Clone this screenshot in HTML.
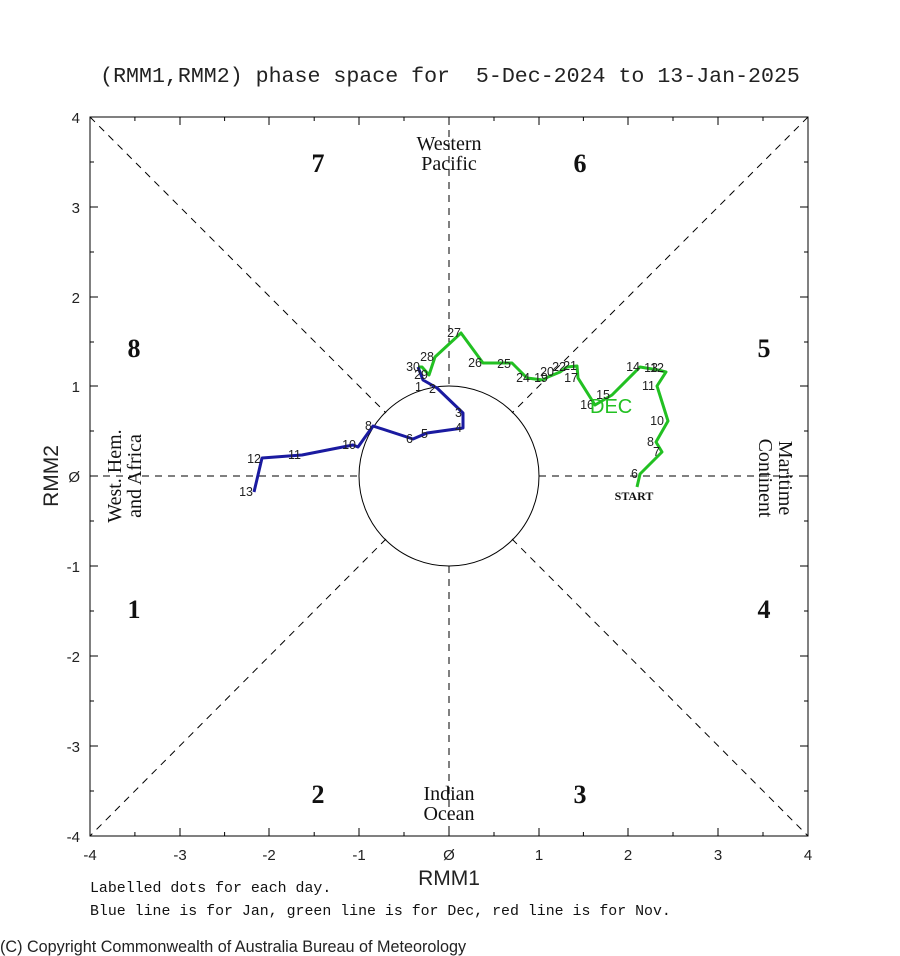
<!DOCTYPE html>
<html><head><meta charset="utf-8"><style>
html,body{margin:0;padding:0;background:#fff;width:900px;height:956px;overflow:hidden}
</style></head><body>
<svg width="900" height="956" xmlns="http://www.w3.org/2000/svg">
<rect width="900" height="956" fill="#fff"/>
<text x="450" y="82" font-family="Liberation Mono, monospace" font-size="21.6" text-anchor="middle" fill="#222" xml:space="preserve">(RMM1,RMM2) phase space for  5-Dec-2024 to 13-Jan-2025</text>
<g stroke="#000" fill="none">
<rect x="90" y="117" width="718" height="719" stroke-width="1"/>
<g stroke-dasharray="7,6" stroke-width="1">
<line x1="90" y1="117" x2="386" y2="413"/><line x1="512" y1="539" x2="808" y2="836"/>
<line x1="808" y1="117" x2="512" y2="413"/><line x1="386" y1="539" x2="90" y2="836"/>
<line x1="449" y1="117" x2="449" y2="386"/><line x1="449" y1="566" x2="449" y2="836"/>
<line x1="90" y1="476" x2="359" y2="476"/><line x1="539" y1="476" x2="808" y2="476"/>
</g>
<circle cx="449" cy="476" r="90" stroke-width="1"/>
<path stroke-width="1" d="
M90,836v-8M134.9,836v-4M180,836v-8M224.6,836v-4M269,836v-8M314.2,836v-4M359,836v-8M404,836v-4M449,836v-8M494,836v-4M539,836v-8M583.4,836v-4M628,836v-8M673,836v-4M718,836v-8M763,836v-4
M90,117v8M134.9,117v4M180,117v8M224.6,117v4M269,117v8M314.2,117v4M359,117v8M404,117v4M449,117v8M494,117v4M539,117v8M583.4,117v4M628,117v8M673,117v4M718,117v8M763,117v4
M90,117h8M90,162h4M90,207h8M90,252h4M90,297h8M90,342h4M90,386h8M90,431h4M90,476h8M90,521h4M90,566h8M90,611h4M90,656h8M90,701h4M90,746h8M90,791h4
M808,117h-8M808,162h-4M808,207h-8M808,252h-4M808,297h-8M808,342h-4M808,386h-8M808,431h-4M808,476h-8M808,521h-4M808,566h-8M808,611h-4M808,656h-8M808,701h-4M808,746h-8M808,791h-4"/>
</g>
<g font-family="Liberation Sans, sans-serif" font-size="15" fill="#222" text-anchor="middle">
<text x="90" y="860">-4</text><text x="180" y="860">-3</text><text x="269" y="860">-2</text><text x="359" y="860">-1</text><text x="449" y="860">Ø</text><text x="539" y="860">1</text><text x="628" y="860">2</text><text x="718" y="860">3</text><text x="808" y="860">4</text>
<g text-anchor="end"><text x="80" y="123">4</text><text x="80" y="213">3</text><text x="80" y="303">2</text><text x="80" y="392">1</text><text x="80" y="482">Ø</text><text x="80" y="572">-1</text><text x="80" y="662">-2</text><text x="80" y="752">-3</text><text x="80" y="842">-4</text></g>
</g>
<text x="449" y="885" font-family="Liberation Sans, sans-serif" font-size="21" text-anchor="middle" fill="#222">RMM1</text>
<text transform="translate(58,476) rotate(-90)" font-family="Liberation Sans, sans-serif" font-size="21" text-anchor="middle" fill="#222">RMM2</text>
<g font-family="Liberation Serif, serif" font-size="26" font-weight="bold" fill="#111" text-anchor="middle">
<text x="318" y="172">7</text><text x="580" y="172">6</text><text x="134" y="357">8</text><text x="764" y="357">5</text>
<text x="134" y="618">1</text><text x="764" y="618">4</text><text x="318" y="803">2</text><text x="580" y="803">3</text>
</g>
<g font-family="Liberation Serif, serif" font-size="20" fill="#111" text-anchor="middle">
<text x="449" y="150">Western</text><text x="449" y="170">Pacific</text>
<text x="449" y="800">Indian</text><text x="449" y="820">Ocean</text>
<text transform="translate(121,476) rotate(-90)">West. Hem.</text><text transform="translate(141,476) rotate(-90)">and Africa</text>
<text transform="translate(759,478) rotate(90)">Continent</text><text transform="translate(779,478) rotate(90)">Maritime</text>
</g>
<polyline fill="none" stroke="#22c022" stroke-width="3" stroke-linejoin="round" points="637,487 640,474 662,452 656,442 668,421 657,386 666,372 658,370 640,367 612,395 595,405 578,378 577,366 567,367 560,372 548,377 543,380 527,378 512,363 483,363 461,333 435,357 429,375 422,367 418,367"/>
<polyline fill="none" stroke="#1a1aa0" stroke-width="3" stroke-linejoin="round" points="418,367 423,380 437,388 463,413 463,428 427,433 413,439 373,426 358,447 353,445 302,455 262,458 254,492"/>
<g font-family="Liberation Sans, sans-serif" font-size="12.5" fill="#222" text-anchor="end">
<text x="638" y="478">6</text><text x="660" y="456">7</text><text x="654" y="446">8</text><text x="664" y="425">10</text><text x="655" y="390">11</text><text x="664" y="372">12</text><text x="658" y="372">13</text><text x="640" y="371">14</text><text x="610" y="399">15</text><text x="594" y="409">16</text><text x="578" y="382">17</text><text x="577" y="370">21</text><text x="566" y="371">22</text><text x="554" y="376">20</text><text x="548" y="382">19</text><text x="530" y="382">24</text><text x="511" y="368">25</text><text x="482" y="367">26</text><text x="461" y="337">27</text><text x="434" y="361">28</text><text x="428" y="379">29</text><text x="420" y="371">30</text>
<text x="422" y="391">1</text><text x="436" y="393">2</text><text x="462" y="417">3</text><text x="462" y="432">4</text><text x="428" y="438">5</text><text x="413" y="443">6</text><text x="372" y="430">8</text><text x="356" y="449">10</text><text x="301" y="459">11</text><text x="261" y="463">12</text><text x="253" y="496">13</text>
</g>
<text x="590" y="413" font-family="Liberation Sans, sans-serif" font-size="20" fill="#22c022">DEC</text>
<text x="634" y="500" font-family="Liberation Serif, serif" font-size="12" font-weight="bold" fill="#111" text-anchor="middle">START</text>
<text x="90" y="892" font-family="Liberation Mono, monospace" font-size="14.9" fill="#111">Labelled dots for each day.</text>
<text x="90" y="915" font-family="Liberation Mono, monospace" font-size="14.9" fill="#111">Blue line is for Jan, green line is for Dec, red line is for Nov.</text>
<text x="0" y="952" font-family="Liberation Sans, sans-serif" font-size="16.2" fill="#222">(C) Copyright Commonwealth of Australia Bureau of Meteorology</text>
</svg>
</body></html>
